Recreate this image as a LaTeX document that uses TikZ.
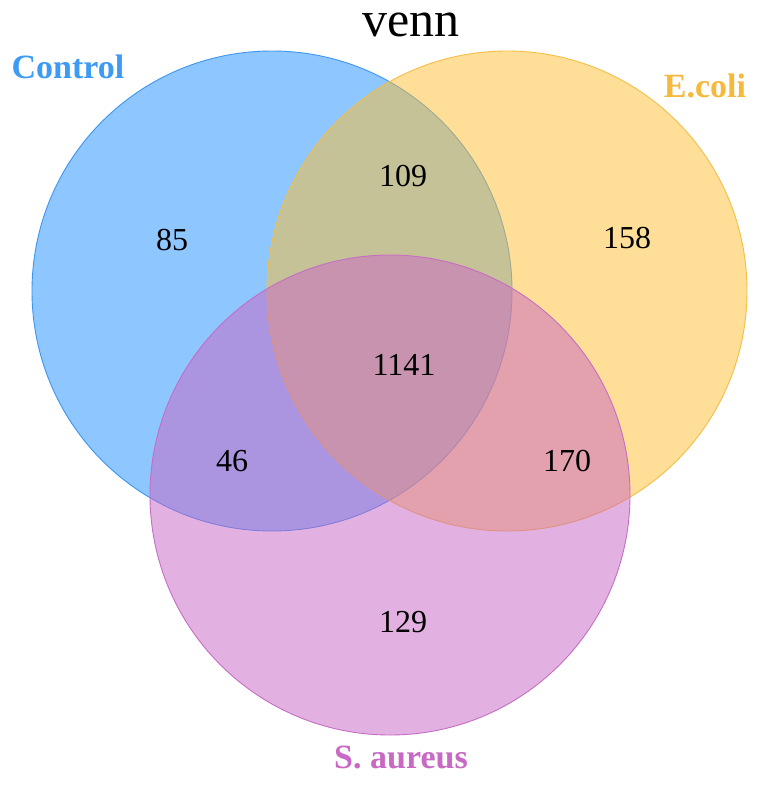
\documentclass[tikz,border=0pt]{standalone}
\usepackage{fontspec}
\setmainfont{Liberation Serif}
\definecolor{cblue}{RGB}{30,144,255}
\definecolor{cyellow}{RGB}{255,190,50}
\definecolor{cpink}{RGB}{201,101,197}
\definecolor{sblue}{RGB}{60,150,240}
\definecolor{syellow}{RGB}{245,190,70}
\definecolor{spink}{RGB}{198,109,196}
\definecolor{tblue}{RGB}{61,155,245}
\definecolor{tyellow}{RGB}{245,185,60}
\definecolor{tpink}{RGB}{200,105,195}
\tikzset{
  setcircle/.style={line width=0.9pt, fill opacity=0.5},
  num/.style={font=\fontsize{32}{32}\selectfont, text=black, inner sep=0pt, anchor=center},
  setlabel/.style={font=\fontsize{34}{34}\selectfont\bfseries, inner sep=0pt, anchor=base}
}
\begin{document}
\begin{tikzpicture}[x=1pt,y=-1pt]
\useasboundingbox (0,0) rectangle (758,785);
\fill[white] (0,0) rectangle (758,785);
\filldraw[setcircle, fill=cblue, draw=sblue] (272,291) circle (240);
\filldraw[setcircle, fill=cyellow, draw=syellow] (507,291) circle (240);
\filldraw[setcircle, fill=cpink, draw=spink] (390,495) circle (240);
\node[font=\fontsize{50}{50}\selectfont, inner sep=0pt, anchor=base] (title) at (411,36) {venn};
\node[setlabel, text=tblue] (lcontrol) at (68,78) {Control};
\node[setlabel, text=tyellow] (lecoli) at (705,97) {E.coli};
\node[setlabel, text=tpink] (lsaureus) at (401,768) {S. aureus};
\node[num] (n85) at (172,240) {85};
\node[num] (n109) at (403,176) {109};
\node[num] (n158) at (627,238) {158};
\node[num] (n1141) at (404,365) {1141};
\node[num] (n46) at (232,461) {46};
\node[num] (n170) at (567,461) {170};
\node[num] (n129) at (403,622) {129};
\end{tikzpicture}
\end{document}
